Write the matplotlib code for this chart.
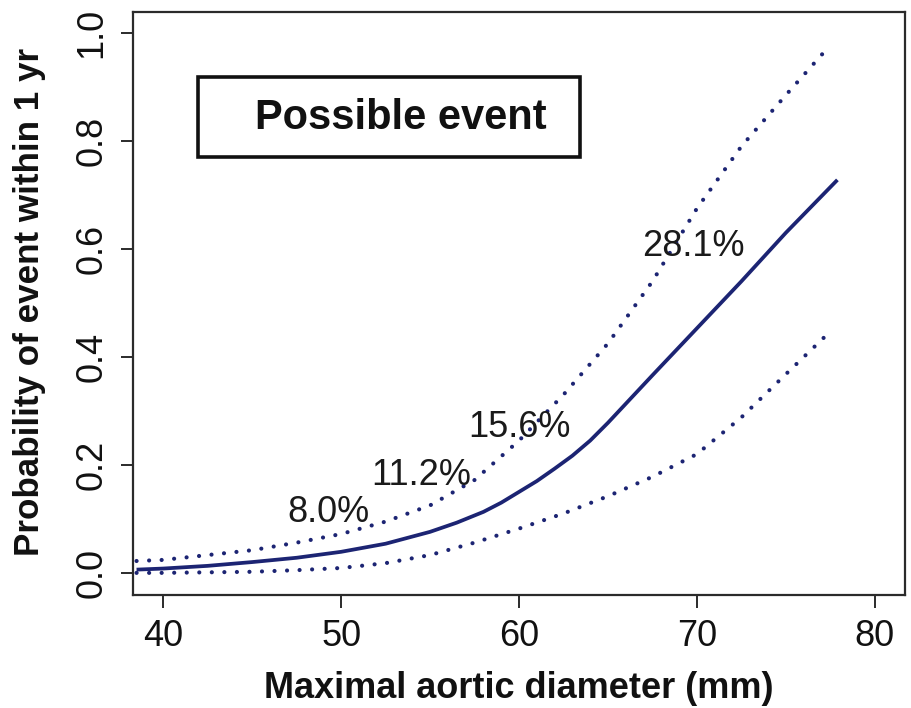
import matplotlib
matplotlib.use("Agg")
import matplotlib.pyplot as plt
from matplotlib.patches import Rectangle

plt.rcParams["font.family"] = ["Liberation Sans", "DejaVu Sans"]

# maximal aortic diameter (mm)
diam = [38.5, 40, 42.5, 45, 47.5, 50, 52.5, 55, 56.5, 58, 59, 60, 61, 62, 63, 64,
        65, 67.5, 70, 72.5, 75, 77.9]
prob = [0.006, 0.008, 0.013, 0.020, 0.028, 0.039, 0.054, 0.076, 0.093, 0.113,
        0.130, 0.150, 0.170, 0.193, 0.217, 0.245, 0.278, 0.366, 0.453, 0.540,
        0.630, 0.728]

diam_ci = [38.5, 40, 45, 47.5, 50, 52.5, 55, 57.5, 60, 62.5, 65, 67.5, 70, 72.5, 75, 77.4]
upper = [0.022, 0.024, 0.042, 0.056, 0.072, 0.095, 0.125, 0.172, 0.245, 0.330,
         0.425, 0.540, 0.675, 0.790, 0.885, 0.974]
lower = [0.0, 0.0, 0.002, 0.005, 0.009, 0.018, 0.033, 0.056, 0.082, 0.110,
         0.142, 0.178, 0.220, 0.288, 0.368, 0.444]

# annotations: (x, y, text)
ann_x = [49.3, 54.5, 60.0, 69.8]
ann_y = [0.112, 0.181, 0.27, 0.604]
ann_txt = ["8.0%", "11.2%", "15.6%", "28.1%"]

navy = "#1c2473"
dark = "#2b2b2b"

fig = plt.figure(figsize=(9.12, 7.08), dpi=100)
ax = fig.add_axes([133 / 912, 1 - 595 / 708, (905 - 133) / 912, (595 - 12) / 708])

ax.plot(diam, prob, color=navy, lw=2.7, solid_capstyle="butt", solid_joinstyle="round")
dot = (0, (0.01, 3.0))
ax.plot(diam_ci, upper, color=navy, lw=3.0, linestyle=dot, dash_capstyle="round")
ax.plot(diam_ci, lower, color=navy, lw=3.0, linestyle=dot, dash_capstyle="round")

for x, y, t in zip(ann_x, ann_y, ann_txt):
    ax.text(x, y, t, fontsize=26, ha="center", va="center", color="#1a1a1a")

ax.set_xlim(38.3, 81.7)
ax.set_ylim(-0.041, 1.039)
ax.set_xticks([40, 50, 60, 70, 80])
ax.set_yticks([0.0, 0.2, 0.4, 0.6, 0.8, 1.0])
ax.set_yticklabels(["0.0", "0.2", "0.4", "0.6", "0.8", "1.0"], rotation=90, va="center")

for s in ax.spines.values():
    s.set_color(dark)
    s.set_linewidth(1.6)
ax.tick_params(axis="both", length=9, width=1.4, color=dark, labelsize=26,
               labelcolor="#111111")
ax.tick_params(axis="x", pad=8)
ax.tick_params(axis="y", pad=8)

# box with title
box = Rectangle((198 / 912, 1 - 157 / 708), (580 - 198) / 912, (157 - 77) / 708,
                transform=fig.transFigure, fill=False, lw=2.6, ec="#111111")
fig.patches.append(box)
fig.text(401 / 912, 1 - 118 / 708, "Possible event", fontsize=30, fontweight="bold",
         ha="center", va="center", color="#111111")

fig.text(519 / 912, 1 - 688 / 708, "Maximal aortic diameter (mm)", fontsize=26,
         fontweight="bold", ha="center", va="center", color="#111111")
fig.text(30 / 912, 1 - 302 / 708, "Probability of event within 1 yr", fontsize=25.2,
         fontweight="bold", ha="center", va="center", rotation=90, color="#111111")

fig.savefig("out.png", dpi=100)
